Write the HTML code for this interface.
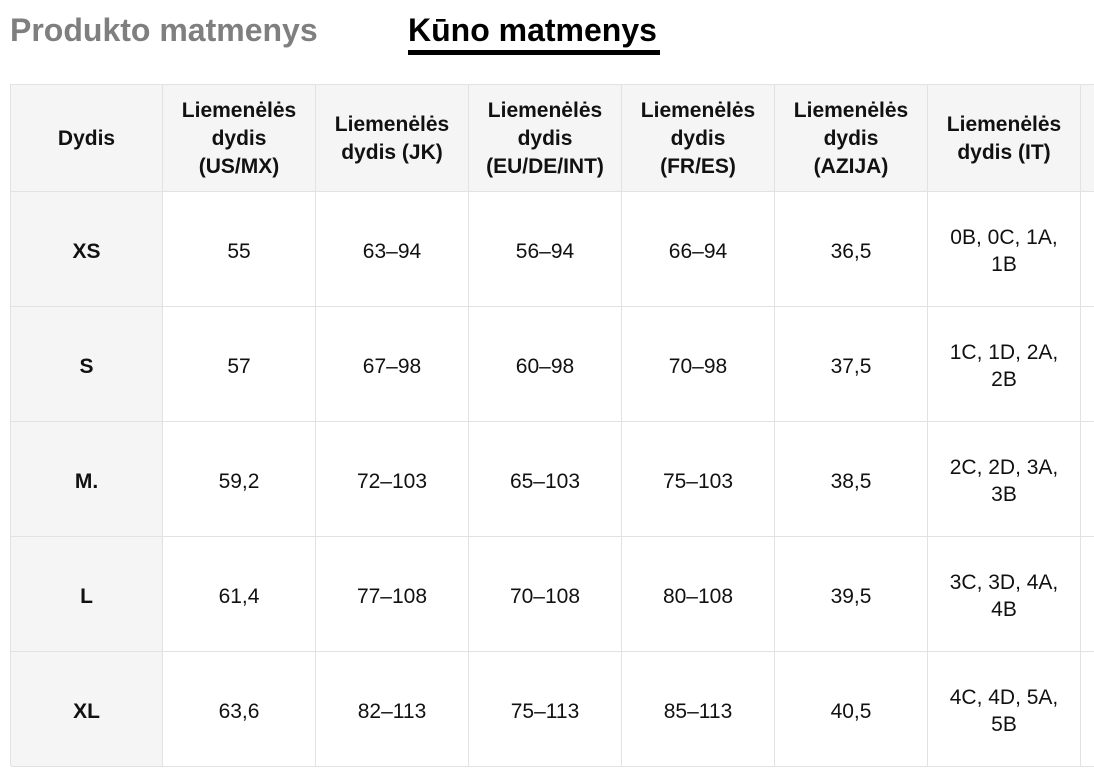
<!DOCTYPE html>
<html><head><meta charset="utf-8"><style>
body{margin:0;width:1094px;height:780px;background:#fff;font-family:"Liberation Sans",Arial,sans-serif;position:relative;overflow:hidden}
.tab{position:absolute;top:11px;font-size:32px;font-weight:bold;line-height:38px}
.c{position:absolute;display:flex;align-items:center;justify-content:center;text-align:center;box-sizing:border-box;border-right:1px solid #e2e2e2;border-bottom:1px solid #e2e2e2;font-size:21px;line-height:27px;color:#111;padding-top:4px}
.h{background:#f5f5f5;font-weight:bold;font-size:21px}
.hr{line-height:28px;padding-top:2px}
</style></head><body>
<div class="tab" style="left:10px;color:#7f7f7f">Produkto matmenys</div>
<div class="tab" style="left:408px;color:#000">Kūno matmenys</div>
<div style="position:absolute;left:408px;top:50px;width:252px;height:5px;background:#000"></div>
<div style="position:absolute;left:10px;top:84px;width:1084px;height:1px;background:#e2e2e2"></div>
<div style="position:absolute;left:10px;top:84px;width:1px;height:682px;background:#e2e2e2"></div>
<div id="t"></div>
<script>
var xs=[10,162,315,468,621,774,927,1080,1240];
var ys=[84,191,306,421,536,651,766];
var rows=[["Dydis","Liemenėlės<br>dydis<br>(US/MX)","Liemenėlės<br>dydis (JK)","Liemenėlės<br>dydis<br>(EU/DE/INT)","Liemenėlės<br>dydis<br>(FR/ES)","Liemenėlės<br>dydis<br>(AZIJA)","Liemenėlės<br>dydis (IT)",""],
["XS","55","63–94","56–94","66–94","36,5","0B, 0C, 1A,<br>1B",""],
["S","57","67–98","60–98","70–98","37,5","1C, 1D, 2A,<br>2B",""],
["M.","59,2","72–103","65–103","75–103","38,5","2C, 2D, 3A,<br>3B",""],
["L","61,4","77–108","70–108","80–108","39,5","3C, 3D, 4A,<br>4B",""],
["XL","63,6","82–113","75–113","85–113","40,5","4C, 4D, 5A,<br>5B",""]];
var h="";
for(var r=0;r<6;r++)for(var c=0;c<8;c++){
var cls="c"+((r==0||c==0)?" h":"")+(r==0?" hr":"");
h+='<div class="'+cls+'" style="left:'+(xs[c]+1)+'px;top:'+(ys[r]+1)+'px;width:'+(xs[c+1]-xs[c])+'px;height:'+(ys[r+1]-ys[r])+'px">'+rows[r][c]+'</div>';}
document.getElementById("t").innerHTML=h;
</script>
</body></html>
